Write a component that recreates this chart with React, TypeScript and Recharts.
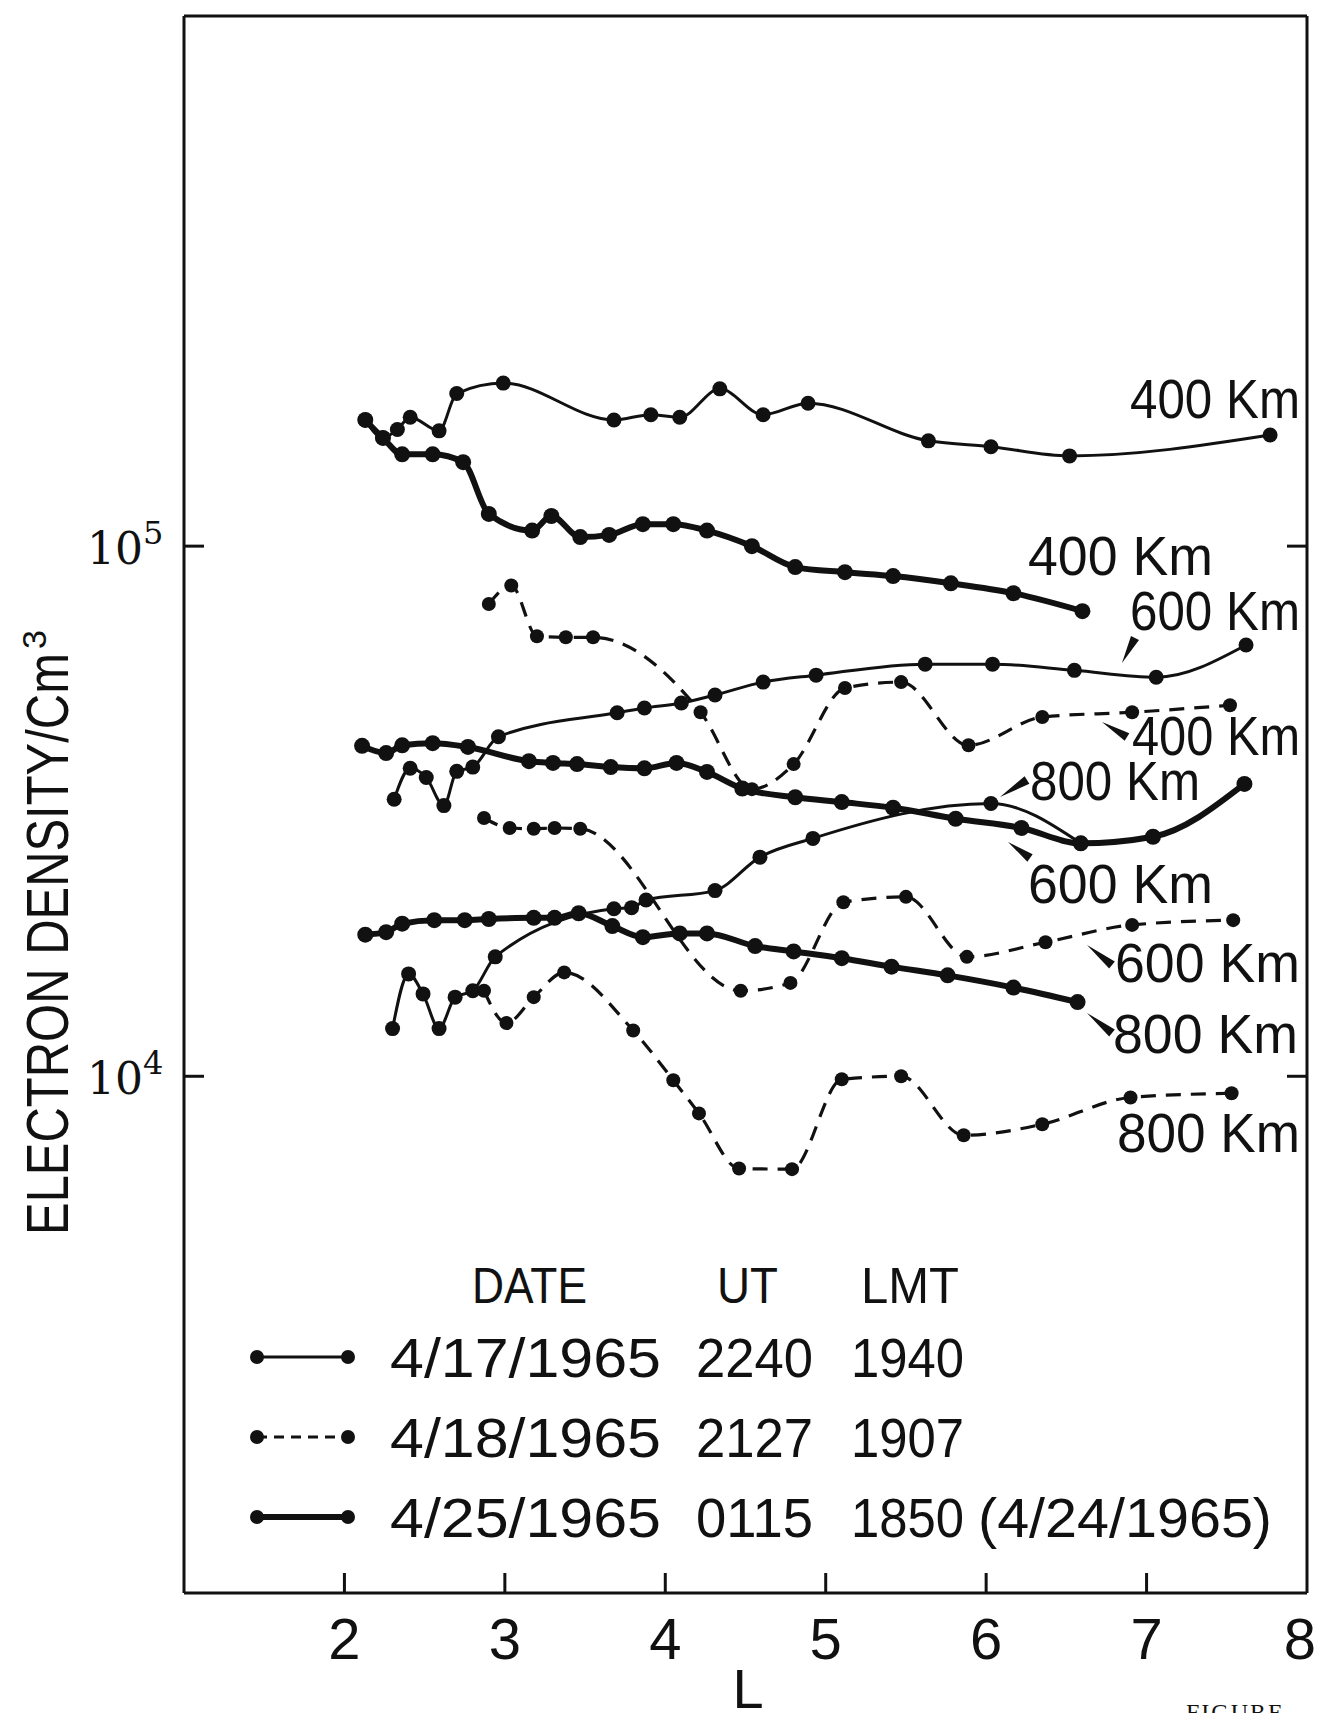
import React from 'react';
import { LineChart, Line, XAxis, YAxis } from 'recharts';

// values: L-shell vs electron density (per cm^3)

// 4/17/1965 (thin solid)
const apr17_400_L = [2.13, 2.24, 2.33, 2.41, 2.59, 2.70, 2.99, 3.68, 3.91, 4.09, 4.34, 4.61, 4.89, 5.64, 6.03, 6.52, 7.77];
const apr17_400_N = [173000, 160000, 166000, 175000, 165000, 194000, 203000, 173000, 177000, 175000, 198000, 177000, 186000, 158000, 154000, 148000, 162000];
const apr17_600_L = [2.31, 2.41, 2.51, 2.62, 2.70, 2.80, 2.96, 3.70, 3.87, 4.10, 4.31, 4.61, 4.94, 5.62, 6.04, 6.55, 7.06, 7.62];
const apr17_600_N = [33300, 38100, 36600, 32400, 37600, 38300, 43700, 48500, 49500, 50600, 52400, 55400, 57100, 59900, 59900, 58300, 56600, 65100];
const apr17_800_L = [2.30, 2.40, 2.49, 2.59, 2.69, 2.80, 2.94, 3.68, 3.79, 3.88, 4.31, 4.59, 4.92, 6.03, 6.59];
const apr17_800_N = [12300, 15600, 14300, 12300, 14100, 14500, 16800, 20700, 20800, 21500, 22400, 25900, 28100, 32700, 27500];

// 4/18/1965 (dashed)
const apr18_400_L = [2.90, 3.04, 3.20, 3.38, 3.55, 4.22, 4.54, 4.80, 5.12, 5.47, 5.89, 6.35, 6.91, 7.52];
const apr18_400_N = [77800, 84300, 67600, 67300, 67300, 48600, 34800, 38800, 54000, 55400, 42100, 47600, 48600, 50100];
const apr18_600_L = [2.87, 3.03, 3.18, 3.31, 3.47, 4.47, 4.78, 5.11, 5.50, 5.88, 6.37, 6.91, 7.54];
const apr18_600_N = [30700, 29400, 29300, 29400, 29300, 14500, 15000, 21300, 21800, 16800, 17900, 19300, 19700];
const apr18_800_L = [2.87, 3.01, 3.18, 3.37, 3.80, 4.05, 4.21, 4.46, 4.79, 5.10, 5.47, 5.86, 6.35, 6.90, 7.53];
const apr18_800_N = [14500, 12600, 14100, 15700, 12200, 9830, 8510, 6700, 6680, 9870, 10000, 7740, 8120, 9120, 9290];

// 4/25/1965 (thick solid)
const apr25_400_L = [2.13, 2.24, 2.36, 2.55, 2.74, 2.90, 3.17, 3.29, 3.47, 3.65, 3.86, 4.05, 4.26, 4.54, 4.81, 5.12, 5.42, 5.78, 6.17, 6.60];
const apr25_400_N = [173000, 160000, 149000, 149000, 144000, 115000, 107000, 114000, 104000, 105000, 110000, 110000, 107000, 100000, 91300, 89300, 87800, 85100, 81500, 75400];
const apr25_600_L = [2.11, 2.26, 2.36, 2.55, 2.77, 3.15, 3.30, 3.45, 3.66, 3.87, 4.07, 4.26, 4.48, 4.81, 5.10, 5.42, 5.81, 6.22, 6.59, 7.04, 7.61];
const apr25_600_N = [42000, 40700, 42100, 42500, 41800, 39300, 39000, 38800, 38300, 38100, 39000, 37500, 34900, 33600, 32900, 32100, 30600, 29400, 27500, 28300, 35600];
const apr25_800_L = [2.13, 2.26, 2.36, 2.56, 2.75, 2.90, 3.18, 3.31, 3.46, 3.67, 3.86, 4.09, 4.26, 4.56, 4.80, 5.10, 5.41, 5.76, 6.17, 6.57];
const apr25_800_N = [18500, 18700, 19400, 19700, 19700, 19800, 19900, 19900, 20300, 19200, 18300, 18600, 18600, 17600, 17200, 16700, 16100, 15500, 14700, 13800];

const xTicks = [2, 3, 4, 5, 6, 7, 8];
const yTicks = [10000, 100000];

const legendHeader = ['DATE', 'UT', 'LMT'];
const legendDate = ['4/17/1965', '4/18/1965', '4/25/1965'];
const legendUT = ['2240', '2127', '0115'];
const legendLMT = ['1940', '1907', '1850'];
const legendNote = ['', '', '(4/24/1965)'];

const toPoints = (L: number[], n: number[]) => L.map((l, i) => ({ L: l, n: n[i] }));

const INK = '#111';
const SANS = '"Liberation Sans", Arial, sans-serif';

type Kind = 'thin' | 'dashed' | 'thick';
const lineStyle: Record<Kind, { w: number; dash?: string; r: number }> = {
  thin: { w: 3, r: 7.5 },
  dashed: { w: 3.2, dash: '15 10', r: 7 },
  thick: { w: 6, r: 8 },
};

const series: { id: string; kind: Kind; data: { L: number; n: number }[] }[] = [
  { id: 'a400', kind: 'thin', data: toPoints(apr17_400_L, apr17_400_N) },
  { id: 'a600', kind: 'thin', data: toPoints(apr17_600_L, apr17_600_N) },
  { id: 'a800', kind: 'thin', data: toPoints(apr17_800_L, apr17_800_N) },
  { id: 'b400', kind: 'dashed', data: toPoints(apr18_400_L, apr18_400_N) },
  { id: 'b600', kind: 'dashed', data: toPoints(apr18_600_L, apr18_600_N) },
  { id: 'b800', kind: 'dashed', data: toPoints(apr18_800_L, apr18_800_N) },
  { id: 'c400', kind: 'thick', data: toPoints(apr25_400_L, apr25_400_N) },
  { id: 'c600', kind: 'thick', data: toPoints(apr25_600_L, apr25_600_N) },
  { id: 'c800', kind: 'thick', data: toPoints(apr25_800_L, apr25_800_N) },
];

// altitude labels beside the curves, with the little wedge pointers
const curveLabels = [
  { text: '400 Km', x: 1130, y: 418, w: 170 },
  { text: '400 Km', x: 1028, y: 575, w: 185 },
  { text: '600 Km', x: 1130, y: 630, w: 170, ptr: [1122, 663, 1135, 638] },
  { text: '400 Km', x: 1132, y: 755, w: 168, ptr: [1102, 722, 1127, 737] },
  { text: '800 Km', x: 1030, y: 800, w: 170, ptr: [1000, 797, 1027, 780] },
  { text: '600 Km', x: 1028, y: 903, w: 185, ptr: [1008, 842, 1030, 858] },
  { text: '600 Km', x: 1115, y: 982, w: 185, ptr: [1087, 945, 1112, 965] },
  { text: '800 Km', x: 1113, y: 1053, w: 185, ptr: [1087, 1013, 1112, 1033] },
  { text: '800 Km', x: 1117, y: 1152, w: 183 },
];

const wedge = (x1: number, y1: number, x2: number, y2: number, half: number) => {
  const dx = x2 - x1;
  const dy = y2 - y1;
  const len = Math.hypot(dx, dy) || 1;
  const px = (-dy / len) * half;
  const py = (dx / len) * half;
  return `${x1},${y1} ${x2 + px},${y2 + py} ${x2 - px},${y2 - py}`;
};

const BottomTick = (props: any) => {
  const { x, y, payload } = props;
  const v = payload.value;
  return (
    <g>
      {v < 8 && <line x1={x} y1={y} x2={x} y2={y - 20} stroke={INK} strokeWidth={3} />}
      <text x={v === 8 ? x - 7 : x} y={y + 66} textAnchor="middle" fontSize={58} fontFamily={SANS} fill={INK}>
        {v}
      </text>
    </g>
  );
};

const TopTick = (props: any) => {
  const { x, y, payload } = props;
  if (payload.value >= 8) return <g />;
  return <line x1={x} y1={y} x2={x} y2={y + 20} stroke={INK} strokeWidth={3} />;
};

const LeftTick = (props: any) => {
  const { x, y, payload } = props;
  const exp = Math.round(Math.log10(payload.value));
  return (
    <g>
      <line x1={x} y1={y} x2={x + 20} y2={y} stroke={INK} strokeWidth={3} />
      <text x={x - 97} y={y + 18} fontSize={44} fontFamily='"DejaVu Serif", serif' fill={INK}>
        10
        <tspan dy={-20} fontSize={32}>{exp}</tspan>
      </text>
    </g>
  );
};

const RightTick = (props: any) => {
  const { x, y } = props;
  return <line x1={x} y1={y} x2={x - 20} y2={y} stroke={INK} strokeWidth={3} />;
};

const legendRowsY = [1377, 1457, 1537];

const Overlay = () => (
  <svg width={1320} height={1713} style={{ position: 'absolute', left: 0, top: 0, pointerEvents: 'none' }}>
    {/* y axis title */}
    <g transform="translate(68,1235) rotate(-90)">
      <text x={0} y={0} fontSize={60} fontFamily={SANS} fill={INK} textLength={582} lengthAdjust="spacingAndGlyphs">
        ELECTRON DENSITY/Cm
      </text>
      <text x={586} y={-22} fontSize={34} fontFamily={SANS} fill={INK}>3</text>
    </g>
    {/* x axis title */}
    <text x={748} y={1708} textAnchor="middle" fontSize={56} fontFamily={SANS} fill={INK}>L</text>
    <text x={1186} y={1720} fontSize={24} fontFamily='"Liberation Serif", serif' fill={INK} letterSpacing={2}>FIGURE</text>

    {curveLabels.map((c, i) => (
      <g key={i}>
        <text x={c.x} y={c.y} fontSize={55} fontFamily={SANS} fill={INK} textLength={c.w} lengthAdjust="spacingAndGlyphs">
          {c.text}
        </text>
        {c.ptr && <polygon points={wedge(c.ptr[0], c.ptr[1], c.ptr[2], c.ptr[3], 4.5)} fill={INK} />}
      </g>
    ))}

    {/* legend */}
    <text x={472} y={1303} fontSize={50} fontFamily={SANS} fill={INK} textLength={115} lengthAdjust="spacingAndGlyphs">{legendHeader[0]}</text>
    <text x={717} y={1303} fontSize={50} fontFamily={SANS} fill={INK} textLength={61} lengthAdjust="spacingAndGlyphs">{legendHeader[1]}</text>
    <text x={861} y={1303} fontSize={50} fontFamily={SANS} fill={INK} textLength={98} lengthAdjust="spacingAndGlyphs">{legendHeader[2]}</text>
    {legendRowsY.map((by, i) => {
      const kind: Kind = i === 0 ? 'thin' : i === 1 ? 'dashed' : 'thick';
      const st = lineStyle[kind];
      const cy = by - 20;
      return (
        <g key={i}>
          <line x1={257} y1={cy} x2={348} y2={cy} stroke={INK} strokeWidth={st.w} strokeDasharray={kind === 'dashed' ? '10 7' : undefined} />
          <circle cx={257} cy={cy} r={7} fill={INK} />
          <circle cx={348} cy={cy} r={7} fill={INK} />
          <text x={390} y={by} fontSize={56} fontFamily={SANS} fill={INK} textLength={271} lengthAdjust="spacingAndGlyphs">{legendDate[i]}</text>
          <text x={696} y={by} fontSize={56} fontFamily={SANS} fill={INK} textLength={117} lengthAdjust="spacingAndGlyphs">{legendUT[i]}</text>
          <text x={851} y={by} fontSize={56} fontFamily={SANS} fill={INK} textLength={113} lengthAdjust="spacingAndGlyphs">{legendLMT[i]}</text>
          {legendNote[i] && (
            <text x={978} y={by} fontSize={56} fontFamily={SANS} fill={INK} textLength={294} lengthAdjust="spacingAndGlyphs">{legendNote[i]}</text>
          )}
        </g>
      );
    })}
  </svg>
);

export default function App() {
  return (
    <div style={{ position: 'absolute', left: 0, top: 0, width: 1320, height: 1713, background: '#fff' }}>
      <LineChart width={1320} height={1713} margin={{ top: 0, right: 0, bottom: 0, left: 0 }}>
        <XAxis
          dataKey="L"
          type="number"
          domain={[1, 8]}
          ticks={xTicks}
          interval={0}
          height={120}
          tickSize={0}
          tickMargin={0}
          tickLine={false}
          axisLine={{ stroke: INK, strokeWidth: 3 }}
          tick={<BottomTick />}
          allowDataOverflow
        />
        <XAxis
          xAxisId="top"
          orientation="top"
          type="number"
          domain={[1, 8]}
          ticks={xTicks}
          interval={0}
          height={16}
          tickSize={0}
          tickMargin={0}
          tickLine={false}
          axisLine={{ stroke: INK, strokeWidth: 3 }}
          tick={<TopTick />}
          allowDataOverflow
        />
        <YAxis
          type="number"
          scale="log"
          domain={[1060, 1000000]}
          ticks={yTicks}
          interval={0}
          width={184}
          tickSize={0}
          tickMargin={0}
          tickLine={false}
          axisLine={{ stroke: INK, strokeWidth: 3 }}
          tick={<LeftTick />}
          allowDataOverflow
        />
        <YAxis
          yAxisId="right"
          orientation="right"
          type="number"
          scale="log"
          domain={[1060, 1000000]}
          ticks={yTicks}
          interval={0}
          width={13}
          tickSize={0}
          tickMargin={0}
          tickLine={false}
          axisLine={{ stroke: INK, strokeWidth: 3 }}
          tick={<RightTick />}
          allowDataOverflow
        />
        {series.map((s) => {
          const st = lineStyle[s.kind];
          return (
            <Line
              key={s.id}
              data={s.data}
              dataKey="n"
              type="monotone"
              stroke={INK}
              strokeWidth={st.w}
              strokeDasharray={st.dash}
              dot={{ r: st.r, fill: INK, stroke: 'none' }}
              activeDot={false}
              isAnimationActive={false}
            />
          );
        })}
      </LineChart>
      <Overlay />
    </div>
  );
}
